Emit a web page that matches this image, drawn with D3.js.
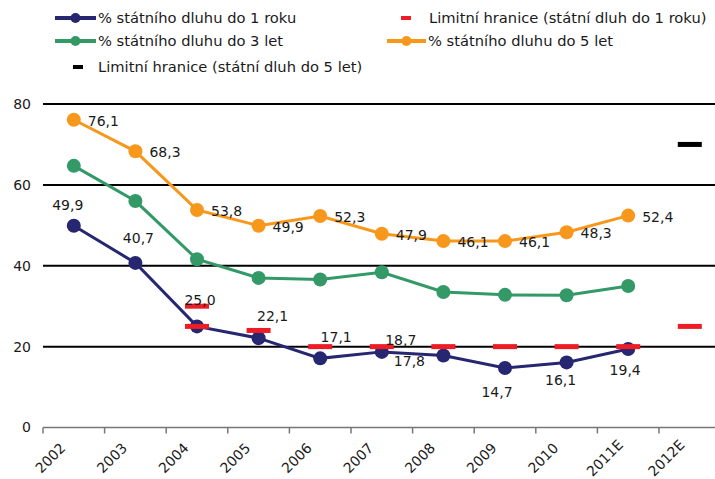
<!DOCTYPE html>
<html lang="cs">
<head>
  <meta charset="UTF-8" />
  <title>Státní dluh</title>
  <script src="https://d3js.org/d3.v7.min.js"></script>
  <style>
    body { margin: 0; background: #fff; }
    svg text { font-family: "DejaVu Sans", Verdana, sans-serif; fill: #1a1a1a; }
  </style>
</head>
<body>
<svg id="chart" width="715" height="479"></svg>
<script>
// == DATA ==
const years = ["2002", "2003", "2004", "2005", "2006", "2007", "2008", "2009", "2010", "2011E", "2012E"];
const debt1 = [49.9, 40.7, 25.0, 22.1, 17.1, 18.7, 17.8, 14.7, 16.1, 19.4, null];
const debt3 = [64.7, 56.0, 41.6, 37.0, 36.6, 38.4, 33.5, 32.8, 32.7, 35.0, null];
const debt5 = [76.1, 68.3, 53.8, 49.9, 52.3, 47.9, 46.1, 46.1, 48.3, 52.4, null];
const limit1Years = ["2004", "2004", "2005", "2006", "2007", "2008", "2009", "2010", "2011E", "2012E"];
const limit1Values = [30, 25, 24, 20, 20, 20, 20, 20, 20, 25];
const limit5Years = ["2012E"];
const limit5Values = [70];
const yTicks = [0, 20, 40, 60, 80];

// hand placed label offsets for the 1-year series (as in the original)
const label1Dx = [-6, 3, 3, 14, 16, 19, -34, -8, -6, -3];
const label1Dy = [-21, -25, -26, -22, -21, -12, 6, 24, 18, 21];

const navy = "#262671", green = "#339966", orange = "#f7981d", red = "#ee1c25";
const fmt = v => d3.format(".1f")(v).replace(".", ",");

const svg = d3.select("#chart");
const x = d3.scaleBand().domain(years).range([43, 720.6]);
const y = d3.scaleLinear().domain([0, 80]).range([427.5, 104]);
const cx = d => x(d) + x.bandwidth() / 2;

// gridlines
svg.append("g").selectAll("line")
  .data(yTicks.filter(t => t > 0))
  .join("line")
  .attr("x1", 43).attr("x2", 715)
  .attr("y1", d => y(d)).attr("y2", d => y(d))
  .attr("stroke", "#000").attr("stroke-width", 2);

// y labels
svg.append("g").selectAll("text")
  .data(yTicks)
  .join("text")
  .attr("x", 31).attr("y", d => y(d))
  .attr("dy", "0.35em")
  .attr("text-anchor", "end")
  .style("font-size", "14px")
  .text(d => d);

// x axis
const xAxis = svg.append("g").attr("transform", `translate(0,${y(0)})`);
xAxis.append("line").attr("x1", 43).attr("x2", 715).attr("stroke", "#777").attr("stroke-width", 1.5);
xAxis.selectAll(".tick")
  .data(years)
  .join("line")
  .attr("x1", d => x(d)).attr("x2", d => x(d))
  .attr("y1", 0).attr("y2", 6)
  .attr("stroke", "#777").attr("stroke-width", 1.5);
xAxis.selectAll("text")
  .data(years)
  .join("text")
  .attr("text-anchor", "middle")
  .attr("transform", d => `translate(${cx(d) - 20},${34}) rotate(-45)`)
  .style("font-size", "14px")
  .text(d => d);

// series
function drawSeries(values, color) {
  const pts = years.map((yr, i) => ({ yr, v: values[i] })).filter(p => p.v != null);
  svg.append("path")
    .datum(pts)
    .attr("fill", "none")
    .attr("stroke", color)
    .attr("stroke-width", 3)
    .attr("d", d3.line().x(p => cx(p.yr)).y(p => y(p.v)));
  svg.append("g").selectAll("circle")
    .data(pts)
    .join("circle")
    .attr("cx", p => cx(p.yr)).attr("cy", p => y(p.v))
    .attr("r", 7)
    .attr("fill", color);
  return pts;
}

const pts5 = drawSeries(debt5, orange);
drawSeries(debt3, green);
const pts1 = drawSeries(debt1, navy);

// limit markers
function drawDashes(ys, vs, color) {
  svg.append("g").selectAll("rect")
    .data(ys.map((yr, i) => ({ yr, v: vs[i] })))
    .join("rect")
    .attr("x", p => cx(p.yr) - 12).attr("y", p => y(p.v) - 2.5)
    .attr("width", 24).attr("height", 5)
    .attr("fill", color);
}
drawDashes(limit1Years, limit1Values, red);
drawDashes(limit5Years, limit5Values, "#000");

// labels
svg.append("g").selectAll("text")
  .data(pts5)
  .join("text")
  .attr("x", p => cx(p.yr) + 14).attr("y", p => y(p.v) + 1)
  .attr("dy", "0.35em")
  .style("font-size", "14px")
  .text(p => fmt(p.v));

svg.append("g").selectAll("text")
  .data(pts1)
  .join("text")
  .attr("x", (p, i) => cx(p.yr) + label1Dx[i])
  .attr("y", (p, i) => y(p.v) + label1Dy[i])
  .attr("dy", "0.35em")
  .attr("text-anchor", "middle")
  .style("font-size", "14px")
  .text(p => fmt(p.v));

// == LEGEND ==
const legend = svg.append("g").style("font-size", "14.7px");
function lineKey(x0, x1, yy, color, label) {
  legend.append("line").attr("x1", x0).attr("x2", x1).attr("y1", yy).attr("y2", yy)
    .attr("stroke", color).attr("stroke-width", 4);
  legend.append("circle").attr("cx", (x0 + x1) / 2).attr("cy", yy).attr("r", 5).attr("fill", color);
  legend.append("text").attr("x", x1 + 2).attr("y", yy).attr("dy", "0.35em").text(label);
}
function dashKey(xc, yy, color, label, tx) {
  legend.append("rect").attr("x", xc - 5).attr("y", yy - 2).attr("width", 10).attr("height", 4).attr("fill", color);
  legend.append("text").attr("x", tx).attr("y", yy).attr("dy", "0.35em").text(label);
}
lineKey(55, 96, 18, navy, "% státního dluhu do 1 roku");
lineKey(55, 96, 41, green, "% státního dluhu do 3 let");
lineKey(387, 426, 41, orange, "% státního dluhu do 5 let");
dashKey(406, 18, red, "Limitní hranice (státní dluh do 1 roku)", 429);
dashKey(78, 67, "#000", "Limitní hranice (státní dluh do 5 let)", 98);
</script>
</body>
</html>
